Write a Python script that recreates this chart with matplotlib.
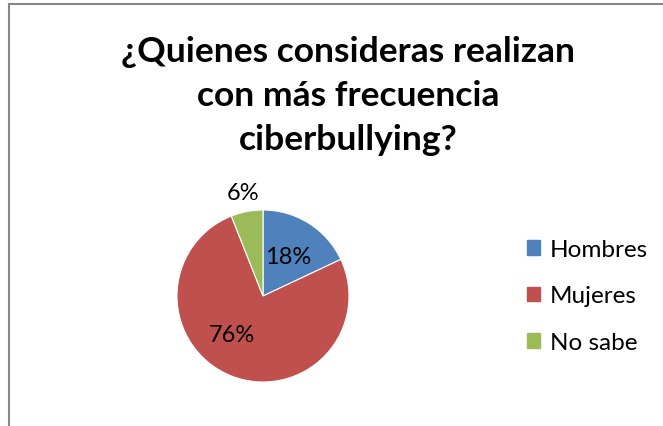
import numpy as np
import matplotlib.pyplot as plt
from matplotlib.patches import Patch
from matplotlib.lines import Line2D

plt.rcParams['font.family'] = ['Lato', 'DejaVu Sans']

# Data
categories = ['Hombres', 'Mujeres', 'No sabe']
values = [18, 76, 6]
colors = ['#4F81BD', '#C0504D', '#9BBB59']
title = '¿Quienes consideras realizan\ncon más frecuencia\nciberbullying?'

W, H = 663, 427
fig = plt.figure(figsize=(W / 100, H / 100), dpi=100)

# frame (only top and left edges visible in the crop)
fig.add_artist(Line2D([9 / W, 9 / W], [1 - 5 / H, 0], color='#878787', lw=1.5))
fig.add_artist(Line2D([9 / W, 1], [1 - 5 / H, 1 - 5 / H], color='#878787', lw=1.5))

fig.text(348 / W, 1 - 96 / H, title, ha='center', va='center',
         fontsize=25.5, fontweight='bold', linespacing=1.45)

# pie axes, centred on (263, 297) px with radius 86 px
cx, cy, r = 263, 297, 86
ax = fig.add_axes([(cx - r) / W, (H - cy - r) / H, 2 * r / W, 2 * r / H])
wedges, texts, autotexts = ax.pie(values, colors=colors, startangle=90,
                                  counterclock=False, autopct='%1.0f%%',
                                  wedgeprops=dict(linewidth=0.8, edgecolor='white'),
                                  textprops=dict(fontsize=17, color='black'))
ax.set_xlim(-1, 1), ax.set_ylim(-1, 1)
ax.set_aspect('equal')

# label placement similar to Excel "best fit"
dists = [0.55, 0.57, 1.23]
for w, t, d, name in zip(wedges, autotexts, dists, categories):
    ang = np.deg2rad((w.theta1 + w.theta2) / 2)
    if name == 'Mujeres':
        ang = np.deg2rad(231)
    t.set_position((d * np.cos(ang), d * np.sin(ang)))
    t.set_ha('center'), t.set_va('center')

handles = [Patch(facecolor=c, edgecolor=c) for c in colors]
fig.legend(handles, categories, loc='center left',
           bbox_to_anchor=(505 / W, 1 - 297 / H), frameon=False,
           fontsize=17.5, handlelength=0.55, handleheight=0.55,
           handletextpad=0.4, labelspacing=1.05)

fig.savefig('out.png', dpi=100)
